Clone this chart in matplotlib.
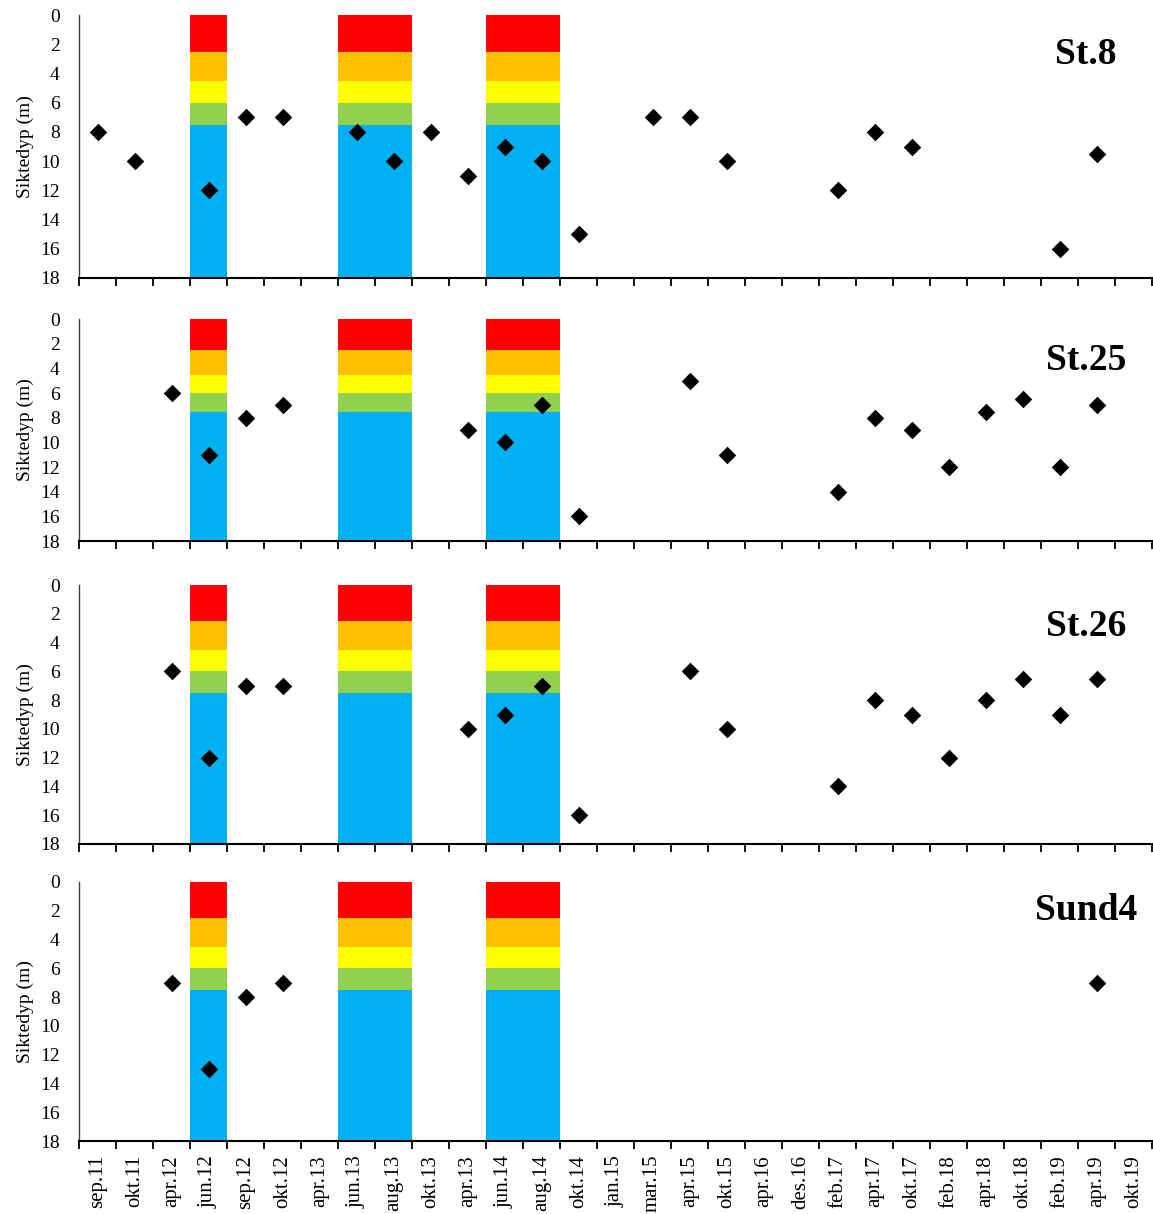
import numpy as np
import matplotlib
matplotlib.use("Agg")
from matplotlib import pyplot as plt

plt.rcParams['font.family'] = ['Liberation Serif', 'DejaVu Serif']

categories = ["sep.11", "okt.11", "apr.12", "jun.12", "sep.12", "okt.12", "apr.13",
              "jun.13", "aug.13", "okt.13", "apr.13", "jun.14", "aug.14", "okt.14",
              "jan.15", "mar.15", "apr.15", "okt.15", "apr.16", "des.16", "feb.17",
              "apr.17", "okt.17", "feb.18", "apr.18", "okt.18", "feb.19", "apr.19",
              "okt.19"]

# class bars (summer months), limits of each colour band in m
bar_cats = ["jun.12", "jun.13", "aug.13", "jun.14", "aug.14"]
band_limits = [0, 2.5, 4.5, 6, 7.5, 18]
band_colors = ["#FF0000", "#FFC000", "#FFFF00", "#92D050", "#00B0F0"]

# sample positions (index into categories) and secchi depths
st8_idx = [0, 1, 3, 4, 5, 7, 8, 9, 10, 11, 12, 13, 15, 16, 17, 20, 21, 22, 26, 27]
st8_vals = [8, 10, 12, 7, 7, 8, 10, 8, 11, 9, 10, 15, 7, 7, 10, 12, 8, 9, 16, 9.5]

st25_idx = [2, 3, 4, 5, 10, 11, 12, 13, 16, 17, 20, 21, 22, 23, 24, 25, 26, 27]
st25_vals = [6, 11, 8, 7, 9, 10, 7, 16, 5, 11, 14, 8, 9, 12, 7.5, 6.5, 12, 7]

st26_idx = [2, 3, 4, 5, 10, 11, 12, 13, 16, 17, 20, 21, 22, 23, 24, 25, 26, 27]
st26_vals = [6, 12, 7, 7, 10, 9, 7, 16, 6, 10, 14, 8, 9, 12, 8, 6.5, 9, 6.5]

sund4_idx = [2, 3, 4, 5, 27]
sund4_vals = [7, 13, 8, 7, 7]

stations = ["St.8", "St.25", "St.26", "Sund4"]
series = [(st8_idx, st8_vals), (st25_idx, st25_vals), (st26_idx, st26_vals), (sund4_idx, sund4_vals)]

W, H = 1153, 1214
panel_px = [(15, 278), (319, 541), (585, 844), (882, 1141)]
title_off = [40, 41, 42, 28]

fig = plt.figure(figsize=(W / 100, H / 100), dpi=100)

n = len(categories)
x = np.arange(n)
bar_x = [categories.index(c) for c in bar_cats]

for k, (name, (idx, vals)) in enumerate(zip(stations, series)):
    top, bot = panel_px[k]
    ax = fig.add_axes([79 / W, 1 - bot / H, (1152 - 79) / W, (bot - top) / H])

    for lo, hi, col in zip(band_limits[:-1], band_limits[1:], band_colors):
        ax.bar(bar_x, [hi - lo] * len(bar_x), bottom=lo, width=1.0, color=col,
               linewidth=0, zorder=1)

    ax.scatter(idx, vals, marker='D', s=80, color='black', zorder=3, linewidths=0)

    ax.set_xlim(-0.5, n - 0.5)
    ax.set_ylim(18, 0)
    ax.set_yticks(np.arange(0, 19, 2))
    ax.tick_params(axis='y', length=0, labelsize=14, pad=14)
    ax.set_ylabel("Siktedyp (m)", fontsize=14, labelpad=4)

    ax.set_xticks(x)
    ax.set_xticks(np.arange(-0.5, n, 1), minor=True)
    ax.tick_params(axis='x', which='major', length=0, labelsize=15, pad=10)
    ax.tick_params(axis='x', which='minor', length=6, width=1.3, direction='out')
    if k == 3:
        ax.set_xticklabels(categories, rotation=90)
    else:
        ax.set_xticklabels([])

    for side in ['top', 'right']:
        ax.spines[side].set_visible(False)
    ax.spines['left'].set_linewidth(1.0)
    ax.spines['left'].set_color('#404040')
    ax.spines['bottom'].set_linewidth(1.5)
    ax.spines['bottom'].set_zorder(4)

    ax.text(0.9385, 1 - title_off[k] / (bot - top), name, transform=ax.transAxes,
            ha='center', va='center', fontsize=27, fontweight='bold')

fig.savefig("out.png", dpi=100)
